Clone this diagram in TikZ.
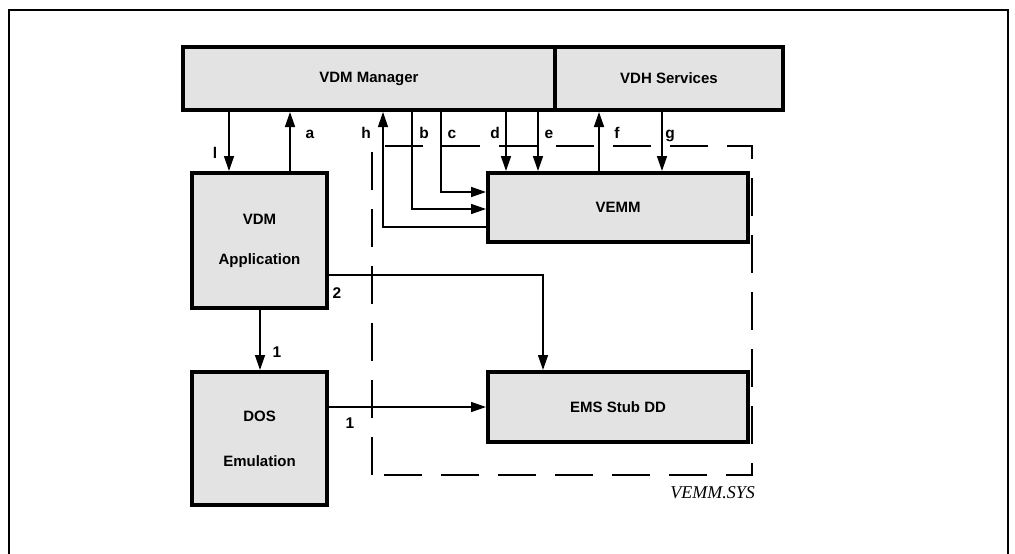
\documentclass[tikz,border=0pt]{standalone}
\usepackage{fontspec}
\setmainfont{Liberation Sans}
\newfontfamily\serifit{Liberation Serif}
\usetikzlibrary{arrows.meta}
\begin{document}
\begin{tikzpicture}[x=1pt,y=-1pt,
  box/.style={draw,line width=4pt,fill=black!11,inner sep=0pt,align=center,
    font=\fontsize{15}{17}\selectfont\bfseries},
  arr/.style={line width=1.5pt,-{Triangle[length=15pt,width=10pt]}},
  lbl/.style={font=\fontsize{15.5}{17}\selectfont\bfseries,inner sep=0pt,text height=11pt,text depth=0pt}]
\useasboundingbox (0,0) rectangle (1015,554);
% outer frame
\draw[line width=2pt] (9,554) -- (9,10) -- (1008,10) -- (1008,554);
% dashed VEMM.SYS region
\draw[line width=1.6pt,dash pattern=on 38pt off 19pt] (372,475) -- (372,146) -- (752,146) -- (752,475) -- cycle;
\node[font=\serifit\itshape\fontsize{18}{20}\selectfont,anchor=base east,inner sep=0pt] (sys) at (755,498) {VEMM.SYS};
% boxes
\node[box,minimum width=372pt,minimum height=63pt] (mgr) at (369,78.5) {VDM Manager};
\node[box,minimum width=228pt,minimum height=63pt] (vdh) at (669,78.5) {VDH Services};
\node[box,minimum width=135pt,minimum height=135pt] (app) at (259.5,240.5) {VDM\\[23pt]Application};
\node[box,minimum width=135pt,minimum height=133pt] (dos) at (259.5,438.5) {DOS\\[28pt]Emulation};
\node[box,minimum width=260pt,minimum height=69pt] (vemm) at (618,207.5) {VEMM};
\node[box,minimum width=260pt,minimum height=70pt] (ems) at (618,407) {EMS Stub DD};
% connectors
\draw[arr] (mgr.south -| 229,0) -- (app.north -| 229,0);
\draw[arr] (app.north -| 290,0) -- (mgr.south -| 290,0);
\draw[line width=1.1pt,-{Triangle[length=15pt,width=10pt]}] (vemm.west |- 0,227) -- (383,227) -- (mgr.south -| 383,0);
\draw[arr] (mgr.south -| 412,0) -- (412,209) -- (vemm.west |- 0,209);
\draw[arr] (mgr.south -| 441,0) -- (441,192) -- (vemm.west |- 0,192);
\draw[arr] (mgr.south -| 506,0) -- (vemm.north -| 506,0);
\draw[arr] (mgr.south -| 538,0) -- (vemm.north -| 538,0);
\draw[arr] (vemm.north -| 599,0) -- (vdh.south -| 599,0);
\draw[arr] (vdh.south -| 662,0) -- (vemm.north -| 662,0);
\draw[arr] (app.east |- 0,275) -- (543,275) -- (ems.north -| 543,0);
\draw[arr] (app.south -| 260,0) -- (dos.north -| 260,0);
\draw[arr] (dos.east |- ems.west) -- (ems.west);
% labels
\node[lbl] (ll) at (215,153) {l};
\node[lbl] (la) at (310,133) {a};
\node[lbl] (lh) at (366,133) {h};
\node[lbl] (lb) at (424,133) {b};
\node[lbl] (lc) at (452,133) {c};
\node[lbl] (ld) at (495,133) {d};
\node[lbl] (le) at (549,133) {e};
\node[lbl] (lf) at (617,133) {f};
\node[lbl] (lg) at (670,133) {g};
\node[lbl] (l2) at (337,293) {2};
\node[lbl] (l1a) at (277,352) {1};
\node[lbl] (l1b) at (350,423) {1};
\end{tikzpicture}
\end{document}
